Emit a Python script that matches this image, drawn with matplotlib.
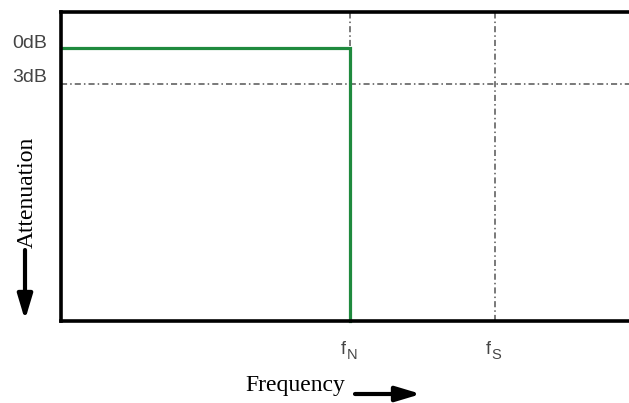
import matplotlib.pyplot as plt
from matplotlib.patches import FancyArrowPatch

# frequency in units of the Nyquist frequency, level in dB
f_nyquist = 1.0
f_sample = 1.5
cutoff_level = -3.0
pass_level = 0.0
level_labels = ["0dB", "3dB"]
freq_labels = [("f", "N"), ("f", "S")]

W, H = 629, 403
fig = plt.figure(figsize=(W / 100, H / 100), dpi=100)

# axes in pixels: left 61, top 12, bottom 321, right edge runs off the figure
left, top, bottom, right = 61, 12, 321, 660
ax = fig.add_axes([left / W, 1 - bottom / H, (right - left) / W,
                   (bottom - top) / H])
px_per_unit = 289.0
px_per_db = 12.0
ax.set_xlim(0, (right - left) / px_per_unit)
ax.set_ylim(-(bottom - 48) / px_per_db, (48 - top) / px_per_db)
ax.set_xticks([])
ax.set_yticks([])
for side in ["left", "top", "bottom", "right"]:
    ax.spines[side].set_linewidth(2.6)
    ax.spines[side].set_color("black")

grid_style = dict(color="#555555", lw=1.1, dashes=(4, 2, 1, 2))
ax.axhline(cutoff_level, **grid_style)
ax.axvline(f_nyquist, **grid_style)
ax.axvline(f_sample, **grid_style)

ymin = ax.get_ylim()[0]
ax.plot([0, f_nyquist, f_nyquist], [pass_level, pass_level, ymin],
        color="#1f8a3e", lw=2.3, solid_joinstyle="miter", clip_on=False)

# level labels
for lab, ypx in zip(level_labels, [43, 78]):
    fig.text(12 / W, 1 - ypx / H, lab, ha="left", va="center",
             family="Liberation Sans", fontsize=14, color="#444444")

# frequency labels
for (base, sub), f in zip(freq_labels, [f_nyquist, f_sample]):
    xpx = left + f * px_per_unit
    fig.text((xpx - 9) / W, 1 - 350 / H, base, ha="left", va="center",
             family="Liberation Sans", fontsize=13, color="#444444")
    fig.text((xpx - 3) / W, 1 - 355 / H, sub, ha="left", va="center",
             family="Liberation Sans", fontsize=10.5, color="#444444")

serif = dict(family="Liberation Serif", fontsize=17, color="black")
fig.text(27 / W, 1 - 192 / H, "Attenuation", rotation=90,
         ha="center", va="center", **serif)
fig.text(295 / W, 1 - 386 / H, "Frequency", ha="center", va="center", **serif)

arrow = dict(arrowstyle="-|>,head_length=1.5,head_width=0.45", lw=3,
             color="black", mutation_scale=10, shrinkA=0, shrinkB=0,
             transform=fig.transFigure)
fig.patches.append(FancyArrowPatch((25 / W, 1 - 250 / H),
                                   (25 / W, 1 - 320 / H), **arrow))
fig.patches.append(FancyArrowPatch((355 / W, 1 - 394 / H),
                                   (421 / W, 1 - 394 / H), **arrow))

fig.savefig("out.png", dpi=100)
